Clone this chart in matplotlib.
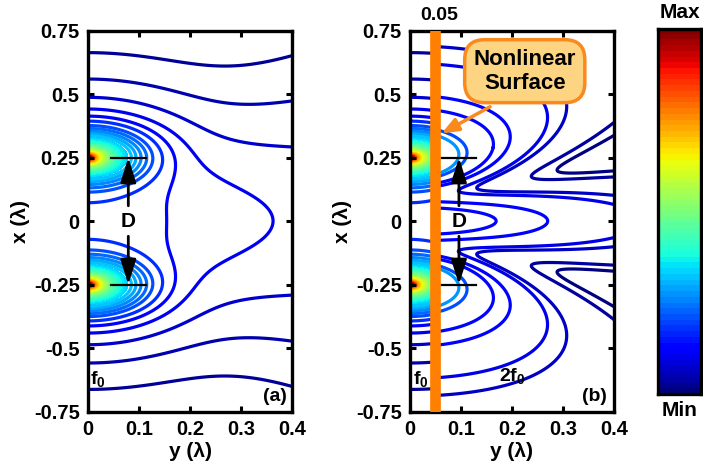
import numpy as np
import matplotlib
matplotlib.use('Agg')
import matplotlib.pyplot as plt

plt.rcParams['font.family'] = ['Liberation Sans', 'DejaVu Sans']
plt.rcParams['font.weight'] = 'bold'
plt.rcParams['mathtext.fontset'] = 'custom'
plt.rcParams['mathtext.rm'] = 'Liberation Sans:bold'
plt.rcParams['mathtext.it'] = 'Liberation Sans:bold'
plt.rcParams['mathtext.bf'] = 'Liberation Sans:bold'

# geometry, in wavelengths
source_x = [0.25, -0.25]
surface_y = 0.05

# f0 focal spots: wavenumber, spreading power, core softening, evanescent weight
f0_k, f0_power, f0_soft, f0_near = 2 * np.pi, 0.5, 0.05, 0.017
# 2f0 field radiated from the same spots through the nonlinear surface
sh_k, sh_power, sh_soft, sh_near = 4 * np.pi, 1.0, 0.01, 0.0

# (y, x) points each drawn contour passes through, with its jet shade
f0_points = [(0.0, 0.663), (0.0, 0.559), (0.0, 0.487), (0.0, 0.441), (0.0, 0.413),
             (0.146, 0.25), (0.127, 0.25), (0.115, 0.25), (0.104, 0.25), (0.094, 0.25), (0.085, 0.25)]
f0_shades = [0.02, 0.04, 0.07, 0.10, 0.12, 0.17, 0.20, 0.23, 0.26, 0.29, 0.32]
f0_core = [(0.078, 0.25), (0.006, 0.25)]  # edge of filled spot, red centre

sh_points = [(0.314, 0.241), (0.239, 0.182), (0.17, 0.176), (0.065, 0.615), (0.27, 0.0),
             (0.163, 0.29), (0.11, 0.25), (0.095, 0.25)]
sh_shades = [0.0, 0.03, 0.06, 0.09, 0.11, 0.13, 0.20, 0.27]

x_ticks = [-0.75, -0.5, -0.25, 0, 0.25, 0.5, 0.75]
x_ticklabels = ['-0.75', '-0.5', '-0.25', '0', '0.25', '0.5', '0.75']
y_ticks = [0, 0.1, 0.2, 0.3, 0.4]
y_ticklabels = ['0', '0.1', '0.2', '0.3', '0.4']

jet = plt.get_cmap('jet')


def field(Y, X, k, power, soft, near):
    Y = np.asarray(Y, dtype=float)
    X = np.asarray(X, dtype=float)
    E = np.zeros(np.broadcast(Y, X).shape, dtype=complex)
    for xs in source_x:
        r = np.sqrt((X - xs) ** 2 + Y ** 2) + 1e-3
        E += np.exp(1j * k * r) * ((r ** 2 + soft ** 2) ** (-power / 2) + near / r ** 3)
    return np.abs(E)


def f0_field(Y, X):
    return field(Y, X, f0_k, f0_power, f0_soft, f0_near)


def sh_field(Y, X):
    return field(Y, X, sh_k, sh_power, sh_soft, sh_near)


def level_set(func, points, shades):
    vals = [float(func(p[0], p[1])) for p in points]
    order = np.argsort(vals)
    lv = [vals[i] for i in order]
    cols = [jet(shades[i]) for i in order]
    return lv, cols


yy = np.linspace(0, 0.4, 401)
xx = np.linspace(-0.75, 0.75, 751)
Y, X = np.meshgrid(yy, xx)
F0 = f0_field(Y, X)
F2 = sh_field(Y, X)

lv0, col0 = level_set(f0_field, f0_points, f0_shades)
lv2, col2 = level_set(sh_field, sh_points, sh_shades)
core_lo = float(f0_field(*f0_core[0]))
core_hi = float(f0_field(*f0_core[1]))
core_levels = np.geomspace(core_lo, core_hi, 48)
core_colors = jet(np.linspace(0.33, 1.0, 48))

fig = plt.figure(figsize=(7.03, 4.67), dpi=100)
ax_a = fig.add_axes([0.1252, 0.1188, 0.2902, 0.8158])
ax_b = fig.add_axes([0.5832, 0.1188, 0.2902, 0.8158])
cax = fig.add_axes([0.936, 0.1563, 0.0612, 0.7816])

lw_c = 2.3
# panel (a): f0 everywhere
ax_a.contourf(Y, X, F0, levels=core_levels, colors=core_colors, extend='max')
ax_a.contour(Y, X, F0, levels=lv0, colors=col0, linewidths=lw_c)

# panel (b): f0 before the surface, 2f0 after it
F0b = np.ma.masked_where(Y > surface_y - 0.004, F0)
F2b = np.ma.masked_where(Y < surface_y + 0.006, F2)
ax_b.contourf(Y, X, F0b, levels=core_levels, colors=core_colors, extend='max')
ax_b.contour(Y, X, F0b, levels=lv0, colors=col0, linewidths=lw_c)
ax_b.contour(Y, X, F2b, levels=lv2, colors=col2, linewidths=lw_c)
ax_b.axvline(surface_y, color='#ff8000', lw=7.7, zorder=5)

for ax, d_y, bar in [(ax_a, 0.079, (0.045, 0.113)), (ax_b, 0.096, (0.062, 0.13))]:
    ax.set_xlim(0, 0.4)
    ax.set_ylim(-0.75, 0.75)
    ax.set_xticks(y_ticks)
    ax.set_xticklabels(y_ticklabels)
    ax.set_yticks(x_ticks)
    ax.set_yticklabels(x_ticklabels)
    ax.tick_params(direction='in', top=True, right=True, length=4, width=2.2,
                   labelsize=14.5, pad=6)
    for sp in ax.spines.values():
        sp.set_linewidth(2.4)
    ax.set_xlabel('y (λ)', fontsize=15, fontweight='bold', labelpad=2)
    ax.set_ylabel('x (λ)', fontsize=15, fontweight='bold', labelpad=3)
    # spacing marker D between the two spots
    for xs in source_x:
        ax.plot(bar, [xs, xs], color='k', lw=1.6, zorder=6)
        ax.annotate('', xy=(d_y, xs), xytext=(d_y, np.sign(xs) * 0.06),
                    arrowprops=dict(arrowstyle='-|>,head_length=1.5,head_width=0.47',
                                    color='k', lw=2, shrinkA=0, shrinkB=0), zorder=6)
    ax.text(d_y, 0.0, 'D', fontsize=15, fontweight='bold', ha='center', va='center', zorder=6)

ax_a.text(0.004, -0.62, r'$\mathbf{f_0}$', fontsize=14, ha='left', va='center')
ax_a.text(0.39, -0.69, '(a)', fontsize=14, ha='right', va='center')
ax_b.text(0.005, -0.62, r'$\mathbf{f_0}$', fontsize=14, ha='left', va='center')
ax_b.text(0.2, -0.61, r'$\mathbf{2f_0}$', fontsize=14, ha='center', va='center')
ax_b.text(0.386, -0.69, '(b)', fontsize=14, ha='right', va='center',
          bbox=dict(fc='white', ec='none', pad=0.5), zorder=6)

ax_b.annotate('0.05', xy=(0.058, 1.0), xycoords=('data', 'axes fraction'),
              xytext=(0, 11), textcoords='offset points', ha='center', va='center',
              fontsize=14, fontweight='bold')
ax_b.text(0.225, 0.59, 'Nonlinear\nSurface', fontsize=16, fontweight='bold',
          ha='center', va='center', linespacing=1.2, zorder=8,
          bbox=dict(boxstyle='round,pad=0.4,rounding_size=0.9', fc='#fdd482',
                    ec='#fa8a1e', lw=2.5))
ax_b.annotate('', xy=(0.062, 0.345), xytext=(0.157, 0.45),
              arrowprops=dict(arrowstyle='-|>,head_length=1.0,head_width=0.4',
                              color='#fa8a1e', lw=2.5, shrinkA=0, shrinkB=0), zorder=7)

# colour bar
cax.imshow(np.linspace(0, 1, 64).reshape(-1, 1), cmap=plt.get_cmap('jet', 64),
           aspect='auto', origin='lower', extent=[0, 1, 0, 1])
cax.set_xticks([])
cax.set_yticks([])
for sp in cax.spines.values():
    sp.set_linewidth(2.4)
cax.text(0.5, 1.02, 'Max', transform=cax.transAxes, ha='center', va='bottom',
         fontsize=15, fontweight='bold')
cax.text(0.5, -0.02, 'Min', transform=cax.transAxes, ha='center', va='top',
         fontsize=15, fontweight='bold')

fig.savefig('out.png', dpi=100)
